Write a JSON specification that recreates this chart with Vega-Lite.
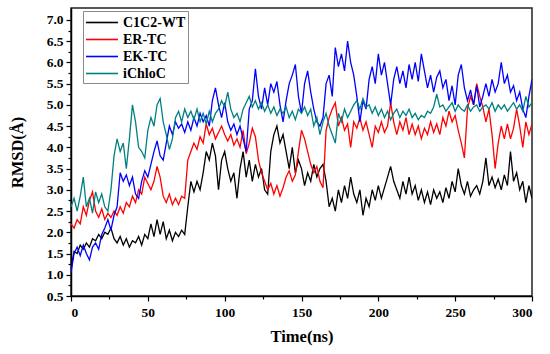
{
"$schema": "https://vega.github.io/schema/vega-lite/v6.json",
"width": 461, "height": 288,
"autosize": {"type": "none"},
"padding": {"left": 71, "top": 8, "right": 18, "bottom": 58},
"background": "white",
"config": {
  "view": {"stroke": "#222", "strokeWidth": 1.5},
  "font": "Liberation Serif",
  "axis": {"domainColor": "#000", "domainWidth": 1.5, "tickColor": "#000", "tickWidth": 1.2, "labelFont": "Liberation Serif", "labelFontWeight": "bold", "labelColor": "#000", "labelFontSize": 13.5, "titleFont": "Liberation Serif", "titleFontWeight": "bold", "titleColor": "#000", "titleFontSize": 16.5, "grid": false, "labelOverlap": false},
  "legend": {"labelFont": "Liberation Serif", "labelFontWeight": "bold", "labelFontSize": 14, "labelColor": "#000"}
},
"data": {"values": [
{"t":0,"s":"C1C2-WT","v":1.15},{"t":2,"s":"C1C2-WT","v":1.55},{"t":4,"s":"C1C2-WT","v":1.5},{"t":6,"s":"C1C2-WT","v":1.7},{"t":8,"s":"C1C2-WT","v":1.6},{"t":10,"s":"C1C2-WT","v":1.75},{"t":12,"s":"C1C2-WT","v":1.65},{"t":14,"s":"C1C2-WT","v":1.85},{"t":16,"s":"C1C2-WT","v":1.8},{"t":18,"s":"C1C2-WT","v":1.95},{"t":20,"s":"C1C2-WT","v":1.85},{"t":22,"s":"C1C2-WT","v":2.0},{"t":24,"s":"C1C2-WT","v":1.95},{"t":26,"s":"C1C2-WT","v":2.1},{"t":28,"s":"C1C2-WT","v":1.85},{"t":30,"s":"C1C2-WT","v":1.75},{"t":32,"s":"C1C2-WT","v":1.9},{"t":34,"s":"C1C2-WT","v":1.7},{"t":36,"s":"C1C2-WT","v":1.85},{"t":38,"s":"C1C2-WT","v":1.65},{"t":40,"s":"C1C2-WT","v":1.8},{"t":42,"s":"C1C2-WT","v":1.75},{"t":44,"s":"C1C2-WT","v":1.9},{"t":46,"s":"C1C2-WT","v":1.7},{"t":48,"s":"C1C2-WT","v":1.95},{"t":50,"s":"C1C2-WT","v":1.85},{"t":52,"s":"C1C2-WT","v":2.2},{"t":54,"s":"C1C2-WT","v":1.9},{"t":56,"s":"C1C2-WT","v":2.3},{"t":58,"s":"C1C2-WT","v":1.95},{"t":60,"s":"C1C2-WT","v":2.25},{"t":62,"s":"C1C2-WT","v":1.85},{"t":64,"s":"C1C2-WT","v":2.05},{"t":66,"s":"C1C2-WT","v":1.8},{"t":68,"s":"C1C2-WT","v":2.0},{"t":70,"s":"C1C2-WT","v":1.9},{"t":72,"s":"C1C2-WT","v":2.05},{"t":74,"s":"C1C2-WT","v":1.95},{"t":76,"s":"C1C2-WT","v":2.6},{"t":78,"s":"C1C2-WT","v":3.2},{"t":80,"s":"C1C2-WT","v":2.95},{"t":82,"s":"C1C2-WT","v":3.2},{"t":84,"s":"C1C2-WT","v":3.0},{"t":86,"s":"C1C2-WT","v":3.4},{"t":88,"s":"C1C2-WT","v":3.9},{"t":90,"s":"C1C2-WT","v":3.7},{"t":92,"s":"C1C2-WT","v":4.1},{"t":94,"s":"C1C2-WT","v":3.8},{"t":96,"s":"C1C2-WT","v":3.0},{"t":98,"s":"C1C2-WT","v":3.7},{"t":100,"s":"C1C2-WT","v":3.9},{"t":102,"s":"C1C2-WT","v":3.5},{"t":104,"s":"C1C2-WT","v":3.2},{"t":106,"s":"C1C2-WT","v":3.4},{"t":108,"s":"C1C2-WT","v":2.8},{"t":110,"s":"C1C2-WT","v":3.5},{"t":112,"s":"C1C2-WT","v":3.9},{"t":114,"s":"C1C2-WT","v":3.3},{"t":116,"s":"C1C2-WT","v":3.7},{"t":118,"s":"C1C2-WT","v":3.2},{"t":120,"s":"C1C2-WT","v":3.6},{"t":122,"s":"C1C2-WT","v":3.3},{"t":124,"s":"C1C2-WT","v":3.5},{"t":126,"s":"C1C2-WT","v":3.0},{"t":128,"s":"C1C2-WT","v":2.9},{"t":130,"s":"C1C2-WT","v":3.9},{"t":132,"s":"C1C2-WT","v":4.3},{"t":134,"s":"C1C2-WT","v":4.5},{"t":136,"s":"C1C2-WT","v":4.1},{"t":138,"s":"C1C2-WT","v":4.3},{"t":140,"s":"C1C2-WT","v":3.9},{"t":142,"s":"C1C2-WT","v":3.5},{"t":144,"s":"C1C2-WT","v":4.0},{"t":146,"s":"C1C2-WT","v":3.4},{"t":148,"s":"C1C2-WT","v":3.7},{"t":150,"s":"C1C2-WT","v":3.5},{"t":152,"s":"C1C2-WT","v":3.1},{"t":154,"s":"C1C2-WT","v":3.4},{"t":156,"s":"C1C2-WT","v":3.2},{"t":158,"s":"C1C2-WT","v":3.6},{"t":160,"s":"C1C2-WT","v":3.3},{"t":162,"s":"C1C2-WT","v":3.5},{"t":164,"s":"C1C2-WT","v":3.6},{"t":166,"s":"C1C2-WT","v":3.2},{"t":168,"s":"C1C2-WT","v":2.6},{"t":170,"s":"C1C2-WT","v":2.8},{"t":172,"s":"C1C2-WT","v":2.5},{"t":174,"s":"C1C2-WT","v":3.0},{"t":176,"s":"C1C2-WT","v":2.7},{"t":178,"s":"C1C2-WT","v":3.1},{"t":180,"s":"C1C2-WT","v":2.8},{"t":182,"s":"C1C2-WT","v":3.3},{"t":184,"s":"C1C2-WT","v":2.9},{"t":186,"s":"C1C2-WT","v":2.7},{"t":188,"s":"C1C2-WT","v":3.0},{"t":190,"s":"C1C2-WT","v":2.4},{"t":192,"s":"C1C2-WT","v":2.8},{"t":194,"s":"C1C2-WT","v":2.6},{"t":196,"s":"C1C2-WT","v":3.0},{"t":198,"s":"C1C2-WT","v":2.75},{"t":200,"s":"C1C2-WT","v":3.1},{"t":202,"s":"C1C2-WT","v":2.8},{"t":204,"s":"C1C2-WT","v":3.05},{"t":206,"s":"C1C2-WT","v":3.3},{"t":208,"s":"C1C2-WT","v":3.55},{"t":210,"s":"C1C2-WT","v":3.2},{"t":212,"s":"C1C2-WT","v":3.0},{"t":214,"s":"C1C2-WT","v":2.8},{"t":216,"s":"C1C2-WT","v":3.2},{"t":218,"s":"C1C2-WT","v":2.9},{"t":220,"s":"C1C2-WT","v":3.3},{"t":222,"s":"C1C2-WT","v":2.9},{"t":224,"s":"C1C2-WT","v":3.1},{"t":226,"s":"C1C2-WT","v":2.75},{"t":228,"s":"C1C2-WT","v":3.0},{"t":230,"s":"C1C2-WT","v":2.7},{"t":232,"s":"C1C2-WT","v":2.95},{"t":234,"s":"C1C2-WT","v":2.65},{"t":236,"s":"C1C2-WT","v":3.0},{"t":238,"s":"C1C2-WT","v":2.8},{"t":240,"s":"C1C2-WT","v":2.95},{"t":242,"s":"C1C2-WT","v":2.7},{"t":244,"s":"C1C2-WT","v":3.05},{"t":246,"s":"C1C2-WT","v":2.8},{"t":248,"s":"C1C2-WT","v":3.2},{"t":250,"s":"C1C2-WT","v":2.95},{"t":252,"s":"C1C2-WT","v":3.5},{"t":254,"s":"C1C2-WT","v":3.1},{"t":256,"s":"C1C2-WT","v":2.9},{"t":258,"s":"C1C2-WT","v":3.2},{"t":260,"s":"C1C2-WT","v":2.85},{"t":262,"s":"C1C2-WT","v":3.0},{"t":264,"s":"C1C2-WT","v":3.1},{"t":266,"s":"C1C2-WT","v":2.9},{"t":268,"s":"C1C2-WT","v":3.2},{"t":270,"s":"C1C2-WT","v":3.75},{"t":272,"s":"C1C2-WT","v":3.1},{"t":274,"s":"C1C2-WT","v":3.3},{"t":276,"s":"C1C2-WT","v":3.05},{"t":278,"s":"C1C2-WT","v":3.25},{"t":280,"s":"C1C2-WT","v":3.0},{"t":282,"s":"C1C2-WT","v":3.35},{"t":284,"s":"C1C2-WT","v":3.1},{"t":286,"s":"C1C2-WT","v":3.9},{"t":288,"s":"C1C2-WT","v":3.2},{"t":290,"s":"C1C2-WT","v":3.4},{"t":292,"s":"C1C2-WT","v":3.0},{"t":294,"s":"C1C2-WT","v":3.2},{"t":296,"s":"C1C2-WT","v":2.7},{"t":298,"s":"C1C2-WT","v":3.1},{"t":300,"s":"C1C2-WT","v":2.8},
{"t":0,"s":"ER-TC","v":2.2},{"t":2,"s":"ER-TC","v":2.1},{"t":4,"s":"ER-TC","v":2.3},{"t":6,"s":"ER-TC","v":2.2},{"t":8,"s":"ER-TC","v":2.6},{"t":10,"s":"ER-TC","v":2.4},{"t":12,"s":"ER-TC","v":2.75},{"t":14,"s":"ER-TC","v":2.95},{"t":16,"s":"ER-TC","v":2.5},{"t":18,"s":"ER-TC","v":2.35},{"t":20,"s":"ER-TC","v":2.55},{"t":22,"s":"ER-TC","v":2.3},{"t":24,"s":"ER-TC","v":2.45},{"t":26,"s":"ER-TC","v":2.35},{"t":28,"s":"ER-TC","v":2.5},{"t":30,"s":"ER-TC","v":2.4},{"t":32,"s":"ER-TC","v":2.6},{"t":34,"s":"ER-TC","v":2.45},{"t":36,"s":"ER-TC","v":2.7},{"t":38,"s":"ER-TC","v":2.6},{"t":40,"s":"ER-TC","v":2.85},{"t":42,"s":"ER-TC","v":2.7},{"t":44,"s":"ER-TC","v":3.0},{"t":46,"s":"ER-TC","v":2.9},{"t":48,"s":"ER-TC","v":3.3},{"t":50,"s":"ER-TC","v":3.15},{"t":52,"s":"ER-TC","v":3.0},{"t":54,"s":"ER-TC","v":3.2},{"t":56,"s":"ER-TC","v":3.55},{"t":58,"s":"ER-TC","v":3.3},{"t":60,"s":"ER-TC","v":2.85},{"t":62,"s":"ER-TC","v":2.7},{"t":64,"s":"ER-TC","v":2.9},{"t":66,"s":"ER-TC","v":2.65},{"t":68,"s":"ER-TC","v":2.8},{"t":70,"s":"ER-TC","v":2.65},{"t":72,"s":"ER-TC","v":2.85},{"t":74,"s":"ER-TC","v":2.8},{"t":76,"s":"ER-TC","v":3.7},{"t":78,"s":"ER-TC","v":3.9},{"t":80,"s":"ER-TC","v":4.1},{"t":82,"s":"ER-TC","v":3.95},{"t":84,"s":"ER-TC","v":4.25},{"t":86,"s":"ER-TC","v":4.1},{"t":88,"s":"ER-TC","v":4.55},{"t":90,"s":"ER-TC","v":4.3},{"t":92,"s":"ER-TC","v":4.45},{"t":94,"s":"ER-TC","v":4.2},{"t":96,"s":"ER-TC","v":4.35},{"t":98,"s":"ER-TC","v":4.5},{"t":100,"s":"ER-TC","v":4.3},{"t":102,"s":"ER-TC","v":4.15},{"t":104,"s":"ER-TC","v":4.3},{"t":106,"s":"ER-TC","v":4.05},{"t":108,"s":"ER-TC","v":4.2},{"t":110,"s":"ER-TC","v":4.0},{"t":112,"s":"ER-TC","v":4.4},{"t":114,"s":"ER-TC","v":3.85},{"t":116,"s":"ER-TC","v":4.1},{"t":118,"s":"ER-TC","v":4.45},{"t":120,"s":"ER-TC","v":4.25},{"t":122,"s":"ER-TC","v":3.7},{"t":124,"s":"ER-TC","v":3.4},{"t":126,"s":"ER-TC","v":3.2},{"t":128,"s":"ER-TC","v":3.0},{"t":130,"s":"ER-TC","v":3.15},{"t":132,"s":"ER-TC","v":2.9},{"t":134,"s":"ER-TC","v":3.1},{"t":136,"s":"ER-TC","v":2.85},{"t":138,"s":"ER-TC","v":3.05},{"t":140,"s":"ER-TC","v":3.3},{"t":142,"s":"ER-TC","v":3.45},{"t":144,"s":"ER-TC","v":3.2},{"t":146,"s":"ER-TC","v":3.35},{"t":148,"s":"ER-TC","v":3.9},{"t":150,"s":"ER-TC","v":4.4},{"t":152,"s":"ER-TC","v":4.2},{"t":154,"s":"ER-TC","v":3.9},{"t":156,"s":"ER-TC","v":3.6},{"t":158,"s":"ER-TC","v":3.4},{"t":160,"s":"ER-TC","v":3.55},{"t":162,"s":"ER-TC","v":3.2},{"t":164,"s":"ER-TC","v":3.05},{"t":166,"s":"ER-TC","v":4.4},{"t":168,"s":"ER-TC","v":4.7},{"t":170,"s":"ER-TC","v":4.9},{"t":172,"s":"ER-TC","v":5.05},{"t":174,"s":"ER-TC","v":4.5},{"t":176,"s":"ER-TC","v":4.7},{"t":178,"s":"ER-TC","v":4.4},{"t":180,"s":"ER-TC","v":4.55},{"t":182,"s":"ER-TC","v":4.0},{"t":184,"s":"ER-TC","v":4.6},{"t":186,"s":"ER-TC","v":4.45},{"t":188,"s":"ER-TC","v":4.7},{"t":190,"s":"ER-TC","v":4.4},{"t":192,"s":"ER-TC","v":4.6},{"t":194,"s":"ER-TC","v":4.3},{"t":196,"s":"ER-TC","v":4.0},{"t":198,"s":"ER-TC","v":4.5},{"t":200,"s":"ER-TC","v":4.35},{"t":202,"s":"ER-TC","v":4.6},{"t":204,"s":"ER-TC","v":4.35},{"t":206,"s":"ER-TC","v":4.5},{"t":208,"s":"ER-TC","v":5.05},{"t":210,"s":"ER-TC","v":4.6},{"t":212,"s":"ER-TC","v":4.3},{"t":214,"s":"ER-TC","v":4.6},{"t":216,"s":"ER-TC","v":4.4},{"t":218,"s":"ER-TC","v":4.7},{"t":220,"s":"ER-TC","v":4.3},{"t":222,"s":"ER-TC","v":4.55},{"t":224,"s":"ER-TC","v":4.3},{"t":226,"s":"ER-TC","v":4.5},{"t":228,"s":"ER-TC","v":4.2},{"t":230,"s":"ER-TC","v":4.45},{"t":232,"s":"ER-TC","v":4.3},{"t":234,"s":"ER-TC","v":4.6},{"t":236,"s":"ER-TC","v":4.35},{"t":238,"s":"ER-TC","v":4.55},{"t":240,"s":"ER-TC","v":4.3},{"t":242,"s":"ER-TC","v":4.7},{"t":244,"s":"ER-TC","v":4.5},{"t":246,"s":"ER-TC","v":4.85},{"t":248,"s":"ER-TC","v":4.6},{"t":250,"s":"ER-TC","v":4.75},{"t":252,"s":"ER-TC","v":4.4},{"t":254,"s":"ER-TC","v":4.1},{"t":256,"s":"ER-TC","v":3.75},{"t":258,"s":"ER-TC","v":4.9},{"t":260,"s":"ER-TC","v":5.2},{"t":262,"s":"ER-TC","v":5.0},{"t":264,"s":"ER-TC","v":5.5},{"t":266,"s":"ER-TC","v":5.2},{"t":268,"s":"ER-TC","v":4.95},{"t":270,"s":"ER-TC","v":4.6},{"t":272,"s":"ER-TC","v":4.9},{"t":274,"s":"ER-TC","v":4.3},{"t":276,"s":"ER-TC","v":3.5},{"t":278,"s":"ER-TC","v":4.1},{"t":280,"s":"ER-TC","v":4.5},{"t":282,"s":"ER-TC","v":4.2},{"t":284,"s":"ER-TC","v":4.55},{"t":286,"s":"ER-TC","v":4.2},{"t":288,"s":"ER-TC","v":4.45},{"t":290,"s":"ER-TC","v":4.9},{"t":292,"s":"ER-TC","v":4.5},{"t":294,"s":"ER-TC","v":4.0},{"t":296,"s":"ER-TC","v":4.6},{"t":298,"s":"ER-TC","v":4.3},{"t":300,"s":"ER-TC","v":4.55},
{"t":0,"s":"EK-TC","v":1.05},{"t":2,"s":"EK-TC","v":1.5},{"t":4,"s":"EK-TC","v":1.65},{"t":6,"s":"EK-TC","v":1.45},{"t":8,"s":"EK-TC","v":1.7},{"t":10,"s":"EK-TC","v":1.5},{"t":12,"s":"EK-TC","v":1.35},{"t":14,"s":"EK-TC","v":1.65},{"t":16,"s":"EK-TC","v":1.75},{"t":18,"s":"EK-TC","v":1.6},{"t":20,"s":"EK-TC","v":1.95},{"t":22,"s":"EK-TC","v":2.1},{"t":24,"s":"EK-TC","v":2.3},{"t":26,"s":"EK-TC","v":2.05},{"t":28,"s":"EK-TC","v":2.4},{"t":30,"s":"EK-TC","v":2.6},{"t":32,"s":"EK-TC","v":3.4},{"t":34,"s":"EK-TC","v":3.2},{"t":36,"s":"EK-TC","v":3.35},{"t":38,"s":"EK-TC","v":3.1},{"t":40,"s":"EK-TC","v":3.3},{"t":42,"s":"EK-TC","v":2.9},{"t":44,"s":"EK-TC","v":2.8},{"t":46,"s":"EK-TC","v":3.2},{"t":48,"s":"EK-TC","v":3.45},{"t":50,"s":"EK-TC","v":3.3},{"t":52,"s":"EK-TC","v":3.6},{"t":54,"s":"EK-TC","v":3.9},{"t":56,"s":"EK-TC","v":4.15},{"t":58,"s":"EK-TC","v":3.8},{"t":60,"s":"EK-TC","v":3.7},{"t":62,"s":"EK-TC","v":4.1},{"t":64,"s":"EK-TC","v":4.5},{"t":66,"s":"EK-TC","v":4.3},{"t":68,"s":"EK-TC","v":4.6},{"t":70,"s":"EK-TC","v":4.45},{"t":72,"s":"EK-TC","v":4.55},{"t":74,"s":"EK-TC","v":4.35},{"t":76,"s":"EK-TC","v":4.6},{"t":78,"s":"EK-TC","v":4.4},{"t":80,"s":"EK-TC","v":4.7},{"t":82,"s":"EK-TC","v":4.5},{"t":84,"s":"EK-TC","v":4.8},{"t":86,"s":"EK-TC","v":4.6},{"t":88,"s":"EK-TC","v":4.75},{"t":90,"s":"EK-TC","v":4.5},{"t":92,"s":"EK-TC","v":5.1},{"t":94,"s":"EK-TC","v":5.4},{"t":96,"s":"EK-TC","v":5.0},{"t":98,"s":"EK-TC","v":4.7},{"t":100,"s":"EK-TC","v":5.05},{"t":102,"s":"EK-TC","v":4.6},{"t":104,"s":"EK-TC","v":4.4},{"t":106,"s":"EK-TC","v":4.55},{"t":108,"s":"EK-TC","v":4.3},{"t":110,"s":"EK-TC","v":4.5},{"t":112,"s":"EK-TC","v":4.2},{"t":114,"s":"EK-TC","v":3.9},{"t":116,"s":"EK-TC","v":4.9},{"t":118,"s":"EK-TC","v":5.1},{"t":120,"s":"EK-TC","v":5.85},{"t":122,"s":"EK-TC","v":5.2},{"t":124,"s":"EK-TC","v":4.9},{"t":126,"s":"EK-TC","v":5.4},{"t":128,"s":"EK-TC","v":5.0},{"t":130,"s":"EK-TC","v":5.5},{"t":132,"s":"EK-TC","v":5.3},{"t":134,"s":"EK-TC","v":5.55},{"t":136,"s":"EK-TC","v":5.0},{"t":138,"s":"EK-TC","v":4.6},{"t":140,"s":"EK-TC","v":5.1},{"t":142,"s":"EK-TC","v":5.5},{"t":144,"s":"EK-TC","v":5.7},{"t":146,"s":"EK-TC","v":5.95},{"t":148,"s":"EK-TC","v":5.2},{"t":150,"s":"EK-TC","v":4.8},{"t":152,"s":"EK-TC","v":5.5},{"t":154,"s":"EK-TC","v":5.8},{"t":156,"s":"EK-TC","v":5.3},{"t":158,"s":"EK-TC","v":4.9},{"t":160,"s":"EK-TC","v":4.6},{"t":162,"s":"EK-TC","v":4.5},{"t":164,"s":"EK-TC","v":4.7},{"t":166,"s":"EK-TC","v":5.5},{"t":168,"s":"EK-TC","v":5.7},{"t":170,"s":"EK-TC","v":5.2},{"t":172,"s":"EK-TC","v":6.35},{"t":174,"s":"EK-TC","v":5.9},{"t":176,"s":"EK-TC","v":6.2},{"t":178,"s":"EK-TC","v":5.8},{"t":180,"s":"EK-TC","v":6.5},{"t":182,"s":"EK-TC","v":6.0},{"t":184,"s":"EK-TC","v":5.7},{"t":186,"s":"EK-TC","v":5.2},{"t":188,"s":"EK-TC","v":4.6},{"t":190,"s":"EK-TC","v":5.1},{"t":192,"s":"EK-TC","v":4.9},{"t":194,"s":"EK-TC","v":5.6},{"t":196,"s":"EK-TC","v":5.9},{"t":198,"s":"EK-TC","v":5.5},{"t":200,"s":"EK-TC","v":6.2},{"t":202,"s":"EK-TC","v":5.7},{"t":204,"s":"EK-TC","v":6.0},{"t":206,"s":"EK-TC","v":5.5},{"t":208,"s":"EK-TC","v":5.0},{"t":210,"s":"EK-TC","v":5.6},{"t":212,"s":"EK-TC","v":5.9},{"t":214,"s":"EK-TC","v":5.5},{"t":216,"s":"EK-TC","v":5.8},{"t":218,"s":"EK-TC","v":5.4},{"t":220,"s":"EK-TC","v":5.95},{"t":222,"s":"EK-TC","v":5.6},{"t":224,"s":"EK-TC","v":6.0},{"t":226,"s":"EK-TC","v":5.55},{"t":228,"s":"EK-TC","v":6.2},{"t":230,"s":"EK-TC","v":5.8},{"t":232,"s":"EK-TC","v":5.4},{"t":234,"s":"EK-TC","v":5.7},{"t":236,"s":"EK-TC","v":5.3},{"t":238,"s":"EK-TC","v":5.65},{"t":240,"s":"EK-TC","v":5.8},{"t":242,"s":"EK-TC","v":5.4},{"t":244,"s":"EK-TC","v":5.6},{"t":246,"s":"EK-TC","v":5.1},{"t":248,"s":"EK-TC","v":5.45},{"t":250,"s":"EK-TC","v":5.0},{"t":252,"s":"EK-TC","v":5.7},{"t":254,"s":"EK-TC","v":5.95},{"t":256,"s":"EK-TC","v":5.4},{"t":258,"s":"EK-TC","v":5.1},{"t":260,"s":"EK-TC","v":5.35},{"t":262,"s":"EK-TC","v":5.0},{"t":264,"s":"EK-TC","v":5.45},{"t":266,"s":"EK-TC","v":4.95},{"t":268,"s":"EK-TC","v":5.2},{"t":270,"s":"EK-TC","v":5.5},{"t":272,"s":"EK-TC","v":5.2},{"t":274,"s":"EK-TC","v":5.6},{"t":276,"s":"EK-TC","v":5.3},{"t":278,"s":"EK-TC","v":5.5},{"t":280,"s":"EK-TC","v":6.0},{"t":282,"s":"EK-TC","v":5.5},{"t":284,"s":"EK-TC","v":5.7},{"t":286,"s":"EK-TC","v":5.3},{"t":288,"s":"EK-TC","v":5.45},{"t":290,"s":"EK-TC","v":5.1},{"t":292,"s":"EK-TC","v":5.3},{"t":294,"s":"EK-TC","v":4.9},{"t":296,"s":"EK-TC","v":4.7},{"t":298,"s":"EK-TC","v":5.2},{"t":300,"s":"EK-TC","v":5.6},
{"t":0,"s":"iChloC","v":2.6},{"t":2,"s":"iChloC","v":2.8},{"t":4,"s":"iChloC","v":2.5},{"t":6,"s":"iChloC","v":2.85},{"t":8,"s":"iChloC","v":3.3},{"t":10,"s":"iChloC","v":2.6},{"t":12,"s":"iChloC","v":2.8},{"t":14,"s":"iChloC","v":2.45},{"t":16,"s":"iChloC","v":2.95},{"t":18,"s":"iChloC","v":2.7},{"t":20,"s":"iChloC","v":2.9},{"t":22,"s":"iChloC","v":2.6},{"t":24,"s":"iChloC","v":2.5},{"t":26,"s":"iChloC","v":3.0},{"t":28,"s":"iChloC","v":3.8},{"t":30,"s":"iChloC","v":4.2},{"t":32,"s":"iChloC","v":3.9},{"t":34,"s":"iChloC","v":4.1},{"t":36,"s":"iChloC","v":3.5},{"t":38,"s":"iChloC","v":4.2},{"t":40,"s":"iChloC","v":5.0},{"t":42,"s":"iChloC","v":4.6},{"t":44,"s":"iChloC","v":4.0},{"t":46,"s":"iChloC","v":3.9},{"t":48,"s":"iChloC","v":3.75},{"t":50,"s":"iChloC","v":4.4},{"t":52,"s":"iChloC","v":4.7},{"t":54,"s":"iChloC","v":4.5},{"t":56,"s":"iChloC","v":5.0},{"t":58,"s":"iChloC","v":5.15},{"t":60,"s":"iChloC","v":4.6},{"t":62,"s":"iChloC","v":4.3},{"t":64,"s":"iChloC","v":3.95},{"t":66,"s":"iChloC","v":4.2},{"t":68,"s":"iChloC","v":4.7},{"t":70,"s":"iChloC","v":4.85},{"t":72,"s":"iChloC","v":4.6},{"t":74,"s":"iChloC","v":4.9},{"t":76,"s":"iChloC","v":4.7},{"t":78,"s":"iChloC","v":4.85},{"t":80,"s":"iChloC","v":4.65},{"t":82,"s":"iChloC","v":4.9},{"t":84,"s":"iChloC","v":4.6},{"t":86,"s":"iChloC","v":4.8},{"t":88,"s":"iChloC","v":4.55},{"t":90,"s":"iChloC","v":4.85},{"t":92,"s":"iChloC","v":4.6},{"t":94,"s":"iChloC","v":4.8},{"t":96,"s":"iChloC","v":4.9},{"t":98,"s":"iChloC","v":5.1},{"t":100,"s":"iChloC","v":4.95},{"t":102,"s":"iChloC","v":5.3},{"t":104,"s":"iChloC","v":4.9},{"t":106,"s":"iChloC","v":4.7},{"t":108,"s":"iChloC","v":4.8},{"t":110,"s":"iChloC","v":4.6},{"t":112,"s":"iChloC","v":4.9},{"t":114,"s":"iChloC","v":5.05},{"t":116,"s":"iChloC","v":5.2},{"t":118,"s":"iChloC","v":4.95},{"t":120,"s":"iChloC","v":5.1},{"t":122,"s":"iChloC","v":4.9},{"t":124,"s":"iChloC","v":5.05},{"t":126,"s":"iChloC","v":4.85},{"t":128,"s":"iChloC","v":5.0},{"t":130,"s":"iChloC","v":4.8},{"t":132,"s":"iChloC","v":4.95},{"t":134,"s":"iChloC","v":4.75},{"t":136,"s":"iChloC","v":4.9},{"t":138,"s":"iChloC","v":4.8},{"t":140,"s":"iChloC","v":4.95},{"t":142,"s":"iChloC","v":4.7},{"t":144,"s":"iChloC","v":4.85},{"t":146,"s":"iChloC","v":4.65},{"t":148,"s":"iChloC","v":4.9},{"t":150,"s":"iChloC","v":4.8},{"t":152,"s":"iChloC","v":4.95},{"t":154,"s":"iChloC","v":4.75},{"t":156,"s":"iChloC","v":4.9},{"t":158,"s":"iChloC","v":4.5},{"t":160,"s":"iChloC","v":4.7},{"t":162,"s":"iChloC","v":4.3},{"t":164,"s":"iChloC","v":4.6},{"t":166,"s":"iChloC","v":4.8},{"t":168,"s":"iChloC","v":4.5},{"t":170,"s":"iChloC","v":4.3},{"t":172,"s":"iChloC","v":4.1},{"t":174,"s":"iChloC","v":4.8},{"t":176,"s":"iChloC","v":4.6},{"t":178,"s":"iChloC","v":4.9},{"t":180,"s":"iChloC","v":4.7},{"t":182,"s":"iChloC","v":4.85},{"t":184,"s":"iChloC","v":5.0},{"t":186,"s":"iChloC","v":5.1},{"t":188,"s":"iChloC","v":4.9},{"t":190,"s":"iChloC","v":5.15},{"t":192,"s":"iChloC","v":4.95},{"t":194,"s":"iChloC","v":5.0},{"t":196,"s":"iChloC","v":4.8},{"t":198,"s":"iChloC","v":4.95},{"t":200,"s":"iChloC","v":4.75},{"t":202,"s":"iChloC","v":4.9},{"t":204,"s":"iChloC","v":4.7},{"t":206,"s":"iChloC","v":4.85},{"t":208,"s":"iChloC","v":4.65},{"t":210,"s":"iChloC","v":4.8},{"t":212,"s":"iChloC","v":4.9},{"t":214,"s":"iChloC","v":4.7},{"t":216,"s":"iChloC","v":4.85},{"t":218,"s":"iChloC","v":4.75},{"t":220,"s":"iChloC","v":4.9},{"t":222,"s":"iChloC","v":4.7},{"t":224,"s":"iChloC","v":4.8},{"t":226,"s":"iChloC","v":4.65},{"t":228,"s":"iChloC","v":4.75},{"t":230,"s":"iChloC","v":4.7},{"t":232,"s":"iChloC","v":4.85},{"t":234,"s":"iChloC","v":4.8},{"t":236,"s":"iChloC","v":4.95},{"t":238,"s":"iChloC","v":5.25},{"t":240,"s":"iChloC","v":4.95},{"t":242,"s":"iChloC","v":5.0},{"t":244,"s":"iChloC","v":4.85},{"t":246,"s":"iChloC","v":4.95},{"t":248,"s":"iChloC","v":5.05},{"t":250,"s":"iChloC","v":4.85},{"t":252,"s":"iChloC","v":5.0},{"t":254,"s":"iChloC","v":4.9},{"t":256,"s":"iChloC","v":4.85},{"t":258,"s":"iChloC","v":5.0},{"t":260,"s":"iChloC","v":4.85},{"t":262,"s":"iChloC","v":4.95},{"t":264,"s":"iChloC","v":5.0},{"t":266,"s":"iChloC","v":4.85},{"t":268,"s":"iChloC","v":4.95},{"t":270,"s":"iChloC","v":5.0},{"t":272,"s":"iChloC","v":4.9},{"t":274,"s":"iChloC","v":5.05},{"t":276,"s":"iChloC","v":4.85},{"t":278,"s":"iChloC","v":5.0},{"t":280,"s":"iChloC","v":4.9},{"t":282,"s":"iChloC","v":5.0},{"t":284,"s":"iChloC","v":4.85},{"t":286,"s":"iChloC","v":4.95},{"t":288,"s":"iChloC","v":5.05},{"t":290,"s":"iChloC","v":4.9},{"t":292,"s":"iChloC","v":5.0},{"t":294,"s":"iChloC","v":4.85},{"t":296,"s":"iChloC","v":5.2},{"t":298,"s":"iChloC","v":4.95},{"t":300,"s":"iChloC","v":5.05}
]},
"mark": {"type": "line", "strokeWidth": 1.3, "strokeJoin": "miter", "clip": true},
"encoding": {
  "x": {"field": "t", "type": "quantitative", "title": "Time(ns)",
    "scale": {"domain": [0, 300], "nice": false},
    "axis": {"values": [0,25,50,75,100,125,150,175,200,225,250,275,300],
      "labelExpr": "datum.value % 50 == 0 ? datum.value : ''",
      "tickSize": {"condition": {"test": "datum.value % 50 == 0", "value": 5}, "value": 3},
      "labelPadding": 4, "titlePadding": 10}},
  "y": {"field": "v", "type": "quantitative", "title": "RMSD(Å)",
    "scale": {"domain": [0.5, 7.28], "nice": false, "zero": false},
    "axis": {"values": [0.5,0.75,1,1.25,1.5,1.75,2,2.25,2.5,2.75,3,3.25,3.5,3.75,4,4.25,4.5,4.75,5,5.25,5.5,5.75,6,6.25,6.5,6.75,7],
      "labelExpr": "abs(datum.value*2 - round(datum.value*2)) < 0.001 ? format(datum.value, '.1f') : ''",
      "tickSize": {"condition": {"test": "abs(datum.value*2 - round(datum.value*2)) < 0.001", "value": 5}, "value": 3},
      "labelPadding": 3, "titlePadding": 21}},
  "color": {"field": "s", "type": "nominal",
    "scale": {"domain": ["C1C2-WT", "ER-TC", "EK-TC", "iChloC"], "range": ["#000000", "#ff0000", "#0000ff", "#008080"]},
    "legend": {"title": null, "orient": "none", "legendX": 12, "legendY": 3, "symbolType": "M-1,0H2.76", "symbolSize": 289, "symbolStrokeWidth": 1.6, "strokeColor": "#888", "fillColor": "white", "padding": 2, "rowPadding": 0, "labelOffset": 19}}
}
}
